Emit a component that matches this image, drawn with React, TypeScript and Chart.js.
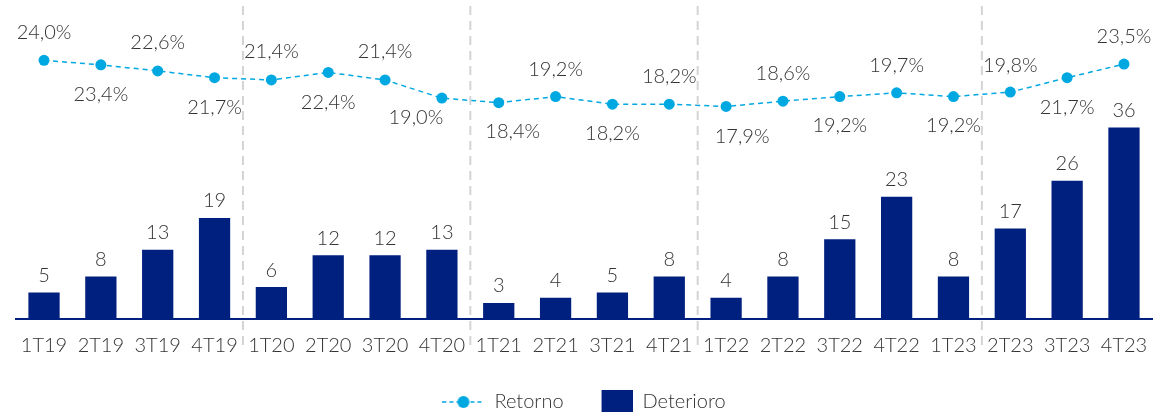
import React, { useEffect, useRef } from 'react';
import { Chart, registerables } from 'chart.js';

Chart.register(...registerables);

const categories = ['1T19', '2T19', '3T19', '4T19', '1T20', '2T20', '3T20', '4T20', '1T21', '2T21', '3T21', '4T21', '1T22', '2T22', '3T22', '4T22', '1T23', '2T23', '3T23', '4T23'];
const deterioro = [5, 8, 13, 19, 6, 12, 12, 13, 3, 4, 5, 8, 4, 8, 15, 23, 8, 17, 26, 36];
const retorno = [24.0, 23.4, 22.6, 21.7, 21.4, 22.4, 21.4, 19.0, 18.4, 19.2, 18.2, 18.2, 17.9, 18.6, 19.2, 19.7, 19.2, 19.8, 21.7, 23.5];
const separatorsAfter = [3, 7, 11, 16];

// label placement (style): offset of each Retorno label from its point
const retornoLabelPlacement: { dx: number; dy: number }[] = [
  { dx: 0, dy: -28 }, { dx: 0, dy: 30 }, { dx: 0, dy: -28 }, { dx: 0, dy: 30 },
  { dx: 0, dy: -28 }, { dx: 0, dy: 30 }, { dx: 0, dy: -28 }, { dx: -26, dy: 19 },
  { dx: 14, dy: 29 }, { dx: 0, dy: -27 }, { dx: 0, dy: 29 }, { dx: 0, dy: -28 },
  { dx: 16, dy: 30 }, { dx: 0, dy: -28 }, { dx: 0, dy: 29 }, { dx: 0, dy: -27 },
  { dx: 0, dy: 29 }, { dx: 0, dy: -27 }, { dx: 0, dy: 30 }, { dx: 0, dy: -28 },
];

const NAVY = '#00207F';
const CYAN = '#00A8E1';
const TEXT = '#333333';
const FONT = 'Lato';

function makeRetornoIcon() {
  const c = document.createElement('canvas');
  c.width = 42; c.height = 14;
  const g = c.getContext('2d')!;
  g.strokeStyle = CYAN; g.lineWidth = 1.5; g.setLineDash([4, 3]);
  g.beginPath(); g.moveTo(0, 7); g.lineTo(42, 7); g.stroke();
  g.fillStyle = CYAN; g.beginPath(); g.arc(21, 7, 6, 0, Math.PI * 2); g.fill();
  return c;
}
function makeDeterioroIcon() {
  const c = document.createElement('canvas');
  c.width = 42; c.height = 24;
  const g = c.getContext('2d')!;
  g.fillStyle = NAVY; g.fillRect(11, 0, 31, 24);
  return c;
}

const overlayPlugin = {
  id: 'overlay',
  afterDatasetsDraw(chart: any) {
    const ctx = chart.ctx;
    const xs = chart.scales.x;
    ctx.save();
    ctx.strokeStyle = '#d4d4d4'; ctx.lineWidth = 2; ctx.setLineDash([9, 6]);
    separatorsAfter.forEach((i) => {
      const px = (xs.getPixelForValue(i) + xs.getPixelForValue(i + 1)) / 2;
      ctx.beginPath(); ctx.moveTo(px, 6); ctx.lineTo(px, 350); ctx.stroke();
    });
    ctx.setLineDash([]);
    ctx.font = `300 20px ${FONT}`;
    ctx.fillStyle = TEXT;
    ctx.textAlign = 'center';
    ctx.textBaseline = 'middle';
    const barMeta = chart.getDatasetMeta(1);
    barMeta.data.forEach((el: any, i: number) => {
      ctx.fillText(String(deterioro[i]), el.x, el.y - 17);
    });
    const lineMeta = chart.getDatasetMeta(0);
    lineMeta.data.forEach((el: any, i: number) => {
      const txt = retorno[i].toFixed(1).replace('.', ',') + '%';
      const p = retornoLabelPlacement[i];
      ctx.fillText(txt, el.x + p.dx, el.y + p.dy);
    });
    ctx.restore();
  },
};

export default function App() {
  const ref = useRef<HTMLCanvasElement>(null);
  useEffect(() => {
    const retIcon = makeRetornoIcon();
    const detIcon = makeDeterioroIcon();
    const chart = new Chart(ref.current!, {
      type: 'bar',
      data: {
        labels: categories,
        datasets: [
          {
            type: 'line',
            label: 'Retorno',
            data: retorno,
            yAxisID: 'y2',
            borderColor: CYAN,
            borderWidth: 1.5,
            borderDash: [5, 4],
            pointRadius: 5.5,
            pointBackgroundColor: CYAN,
            pointBorderWidth: 0,
            tension: 0,
          } as any,
          {
            type: 'bar',
            label: 'Deterioro',
            data: deterioro,
            yAxisID: 'y',
            backgroundColor: NAVY,
            barPercentage: 0.55,
            categoryPercentage: 1,
          },
        ],
      },
      options: {
        animation: false,
        responsive: true,
        maintainAspectRatio: false,
        layout: { padding: { top: 10, left: 15.6, right: 7.6, bottom: 0 } },
        plugins: {
          tooltip: { enabled: false },
          legend: {
            position: 'bottom',
            labels: {
              usePointStyle: true,
              pointStyleWidth: 42,
              padding: 27,
              color: TEXT,
              font: { family: FONT, size: 20, weight: '300' as any },
              generateLabels: () => [
                { text: 'Retorno', pointStyle: retIcon as any, fillStyle: 'transparent', strokeStyle: 'transparent', lineWidth: 0, fontColor: TEXT, datasetIndex: 0, hidden: false },
                { text: 'Deterioro', pointStyle: detIcon as any, fillStyle: 'transparent', strokeStyle: 'transparent', lineWidth: 0, fontColor: TEXT, datasetIndex: 1, hidden: false },
              ],
            },
          },
        },
        scales: {
          x: {
            grid: { display: false },
            border: { display: true, color: NAVY, width: 2 },
            ticks: { color: TEXT, padding: 7, maxRotation: 0, autoSkip: false, font: { family: FONT, size: 20, weight: '300' as any } },
          },
          y: { display: false, min: 0, max: 58.1 },
          y2: { display: false, min: -10.2, max: 30.65 },
        },
      },
      plugins: [overlayPlugin],
    });
    return () => chart.destroy();
  }, []);
  return (
    <div style={{ position: 'fixed', left: 0, top: 0, width: 1160, height: 422 }}>
      <canvas ref={ref} />
    </div>
  );
}
